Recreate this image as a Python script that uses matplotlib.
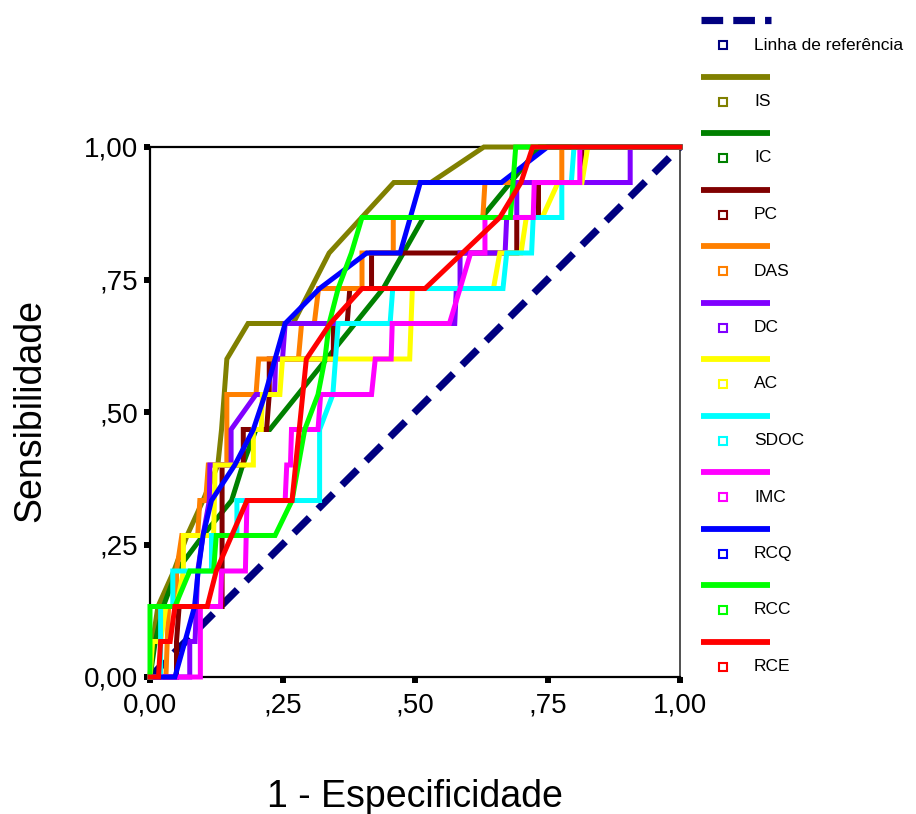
import matplotlib
matplotlib.use("Agg")
import matplotlib.pyplot as plt
from matplotlib.lines import Line2D

plt.rcParams['font.family'] = ['Liberation Sans', 'DejaVu Sans']

# ---- data: (1 - especificidade, sensibilidade) vertices ----
ref_x = [0.0, 1.0]
ref_y = [0.0, 1.0]

is_x = [0, 0.005, 0.015, 0.045, 0.07, 0.10, 0.128, 0.135, 0.14, 0.145, 0.185, 0.27, 0.338, 0.46, 0.53, 0.63, 1.0]
is_y = [0, 0.067, 0.133, 0.2, 0.267, 0.333, 0.4, 0.467, 0.533, 0.6, 0.667, 0.667, 0.8, 0.933, 0.933, 1.0, 1.0]

ic_x = [0, 0.01, 0.025, 0.05, 0.10, 0.154, 0.175, 0.2, 0.226, 0.44, 0.516, 0.626, 0.735, 1.0]
ic_y = [0, 0.067, 0.133, 0.2, 0.267, 0.333, 0.4, 0.467, 0.467, 0.733, 0.867, 0.867, 1.0, 1.0]

pc_x = [0, 0.05, 0.05, 0.055, 0.136, 0.136, 0.176, 0.176, 0.22, 0.225, 0.225, 0.346, 0.346, 0.372, 0.377,
        0.418, 0.418, 0.692, 0.692, 0.733, 0.733, 0.815, 0.815, 1.0]
pc_y = [0, 0, 0.067, 0.133, 0.133, 0.4, 0.4, 0.467, 0.467, 0.533, 0.6, 0.6, 0.667, 0.667, 0.733,
        0.733, 0.8, 0.8, 0.867, 0.867, 0.933, 0.933, 1.0, 1.0]

das_x = [0, 0.03, 0.035, 0.05, 0.05, 0.06, 0.09, 0.094, 0.105, 0.11, 0.145, 0.145, 0.2, 0.205, 0.28, 0.286,
         0.31, 0.318, 0.4, 0.4, 0.459, 0.459, 0.628, 0.632, 0.777, 0.777, 1.0]
das_y = [0, 0, 0.133, 0.133, 0.2, 0.267, 0.267, 0.333, 0.333, 0.4, 0.4, 0.533, 0.533, 0.6, 0.6, 0.667,
         0.667, 0.733, 0.733, 0.8, 0.8, 0.867, 0.867, 0.933, 0.933, 1.0, 1.0]

dc_x = [0, 0.075, 0.075, 0.085, 0.09, 0.10, 0.112, 0.113, 0.153, 0.153, 0.2, 0.235, 0.237, 0.25, 0.255,
        0.575, 0.578, 0.585, 0.585, 0.67, 0.673, 0.692, 0.692, 0.906, 0.906, 1.0]
dc_y = [0, 0, 0.067, 0.067, 0.2, 0.267, 0.333, 0.4, 0.4, 0.467, 0.533, 0.533, 0.6, 0.6, 0.667,
        0.667, 0.733, 0.733, 0.8, 0.8, 0.867, 0.867, 0.933, 0.933, 1.0, 1.0]

ac_x = [0, 0.005, 0.02, 0.03, 0.05, 0.063, 0.063, 0.12, 0.123, 0.195, 0.195, 0.21, 0.212, 0.245, 0.25,
        0.49, 0.495, 0.648, 0.66, 0.70, 0.71, 0.74, 0.77, 0.815, 0.826, 1.0]
ac_y = [0, 0.067, 0.067, 0.133, 0.133, 0.2, 0.267, 0.267, 0.4, 0.4, 0.467, 0.467, 0.533, 0.533, 0.6,
        0.6, 0.733, 0.733, 0.8, 0.8, 0.867, 0.867, 0.933, 0.933, 1.0, 1.0]

sdoc_x = [0, 0.02, 0.02, 0.043, 0.043, 0.116, 0.116, 0.164, 0.164, 0.32, 0.32, 0.345, 0.355, 0.453, 0.458,
          0.666, 0.673, 0.72, 0.723, 0.777, 0.777, 0.795, 0.80, 1.0]
sdoc_y = [0, 0, 0.133, 0.133, 0.2, 0.2, 0.267, 0.267, 0.333, 0.333, 0.467, 0.533, 0.667, 0.667, 0.733,
          0.733, 0.8, 0.8, 0.867, 0.867, 0.933, 0.933, 1.0, 1.0]

imc_x = [0, 0.095, 0.095, 0.133, 0.135, 0.18, 0.183, 0.255, 0.258, 0.265, 0.267, 0.317, 0.322, 0.418, 0.425,
         0.455, 0.457, 0.565, 0.585, 0.605, 0.632, 0.632, 0.723, 0.725, 0.811, 0.811, 1.0]
imc_y = [0, 0, 0.133, 0.133, 0.2, 0.2, 0.333, 0.333, 0.4, 0.4, 0.467, 0.467, 0.533, 0.533, 0.6,
         0.6, 0.667, 0.667, 0.733, 0.8, 0.8, 0.867, 0.867, 0.933, 0.933, 1.0, 1.0]

rcq_x = [0, 0.047, 0.066, 0.084, 0.091, 0.10, 0.116, 0.16, 0.195, 0.217, 0.236, 0.255, 0.32, 0.409, 0.472,
         0.51, 0.663, 0.75, 1.0]
rcq_y = [0, 0, 0.067, 0.133, 0.2, 0.267, 0.333, 0.4, 0.467, 0.533, 0.6, 0.667, 0.733, 0.8, 0.8,
         0.933, 0.933, 1.0, 1.0]

rcc_x = [0, 0, 0.047, 0.075, 0.12, 0.125, 0.236, 0.268, 0.28, 0.292, 0.317, 0.33, 0.338, 0.355, 0.38,
         0.40, 0.68, 0.69, 1.0]
rcc_y = [0, 0.133, 0.133, 0.2, 0.2, 0.267, 0.267, 0.333, 0.4, 0.467, 0.533, 0.6, 0.667, 0.733, 0.8,
         0.867, 0.867, 1.0, 1.0]

rce_x = [0, 0.016, 0.02, 0.038, 0.047, 0.108, 0.125, 0.183, 0.268, 0.295, 0.34, 0.40, 0.519, 0.66, 0.70,
         0.722, 1.0]
rce_y = [0, 0, 0.067, 0.067, 0.133, 0.133, 0.2, 0.333, 0.333, 0.6, 0.667, 0.733, 0.733, 0.867, 0.933,
         1.0, 1.0]

series_names = ["IS", "IC", "PC", "DAS", "DC", "AC", "SDOC", "IMC", "RCQ", "RCC", "RCE"]
series_x = [is_x, ic_x, pc_x, das_x, dc_x, ac_x, sdoc_x, imc_x, rcq_x, rcc_x, rce_x]
series_y = [is_y, ic_y, pc_y, das_y, dc_y, ac_y, sdoc_y, imc_y, rcq_y, rcc_y, rce_y]
series_colors = ["#808000", "#008000", "#800000", "#FF8000", "#8000FF", "#FFFF00",
                 "#00FFFF", "#FF00FF", "#0000FF", "#00FF00", "#FF0000"]
ref_name = "Linha de referência"
ref_color = "#000080"

tick_vals = [0.0, 0.25, 0.5, 0.75, 1.0]
tick_labels = ["0,00", ",25", ",50", ",75", "1,00"]

# ---- figure ----
W, H = 916, 814
fig = plt.figure(figsize=(W / 100, H / 100), dpi=100)
ax = fig.add_axes([150 / W, (H - 677) / H, 530 / W, 530 / H])

ax.plot(ref_x, ref_y, color=ref_color, lw=5.2, dashes=(3.0, 1.7), clip_on=False, zorder=2,
        solid_capstyle='butt', dash_capstyle='butt')
for i, (xs, ys, c) in enumerate(zip(series_x, series_y, series_colors)):
    ax.plot(xs, ys, color=c, lw=3.6, clip_on=False, zorder=3 + i, solid_joinstyle='miter')

ax.set_xlim(0, 1)
ax.set_ylim(0, 1)
ax.set_xticks(tick_vals)
ax.set_xticklabels(tick_labels)
ax.set_yticks(tick_vals)
ax.set_yticklabels(tick_labels)
ax.tick_params(direction='out', length=4.5, width=4.3, color='black', labelsize=20, pad=4)
ax.tick_params(axis='x', pad=7)
for s in ax.spines.values():
    s.set_linewidth(1.6)
    s.set_color('black')
ax.spines['right'].set_color('#333333')
ax.spines['right'].set_linewidth(1.2)

fig.text(30 / W, 1 - 410 / H, "Sensibilidade", rotation=90, ha='center', va='center', fontsize=27)
fig.text(415 / W, 1 - 797 / H, "1 - Especificidade", ha='center', va='center', fontsize=27)

# ---- legend (SPSS style: line on one row, square + label on the next) ----
def fx(px):
    return px / W

def fy(py):
    return 1 - py / H

step = 56.5
names = [ref_name] + series_names
colors = [ref_color] + series_colors
for i, (n, c) in enumerate(zip(names, colors)):
    ly = 20 + step * i
    ty = 45 + step * i
    if i == 0:
        fig.add_artist(Line2D([fx(701), fx(771)], [fy(ly), fy(ly)], color=c, lw=5.2,
                              dashes=(3.0, 1.4), dash_capstyle='butt', transform=fig.transFigure))
    else:
        fig.add_artist(Line2D([fx(701), fx(770)], [fy(ly), fy(ly)], color=c, lw=4.2,
                              solid_capstyle='butt', transform=fig.transFigure))
    fig.add_artist(Line2D([fx(723)], [fy(ty)], marker='s', markersize=5.5, markerfacecolor='white',
                          markeredgecolor=c, markeredgewidth=1.5, linestyle='none',
                          transform=fig.transFigure))
    fig.text(fx(754), fy(ty), n, ha='left', va='center', fontsize=12.5)

fig.savefig("out.png", dpi=100)
